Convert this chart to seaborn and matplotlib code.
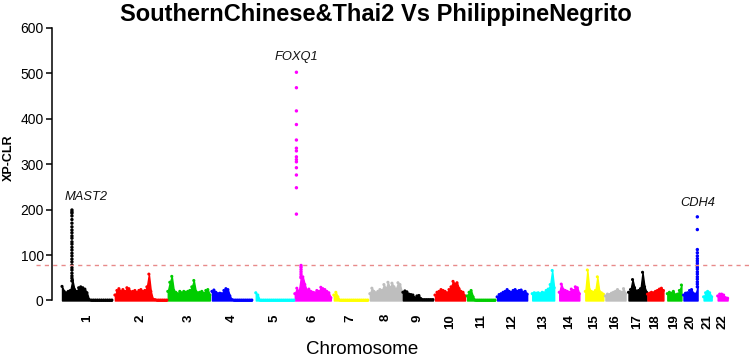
import numpy as np
import pandas as pd
import seaborn as sns
import matplotlib
matplotlib.use("Agg")
import matplotlib.pyplot as plt

# chromosome layout (Mb covered by SNPs, gap to next chromosome)
chrom_ids = list(range(1, 23))
chrom_span_mb = [216, 225, 182, 173, 165, 156, 147, 139, 130, 130, 121,
                 130, 95, 87, 78, 87, 78, 69, 61, 61, 35, 43]
chrom_gap_mb = [13, 4, 9, 17, 4, 13, 9, 4, 9, 9, 9, 22, 22, 26, 9, 13,
                4, 17, 9, 26, 26, 0]
chrom_colors = ["black", "red", "#00CD00", "blue", "cyan", "magenta",
                "yellow", "#BEBEBE"]

# upper envelope of XP-CLR scores, evenly spaced along each chromosome
chr1 = [31, 20, 17, 20, 22, 45, 24, 20, 28, 30, 28, 25, 17,
        2, 1, 1, 1, 1, 1, 1, 1, 1, 1, 1, 1]
chr2 = [12, 22, 26, 20, 24, 20, 28, 26, 19, 20, 22, 18, 22, 24,
        20, 22, 30, 58, 20, 3, 2, 1, 1, 1, 1, 1, 1]
chr3 = [20, 40, 53, 22, 18, 15, 20, 17, 20, 18, 20, 22, 30, 44,
        20, 17, 18, 20, 16, 22, 24, 12]
chr4 = [20, 23, 18, 15, 16, 15, 22, 26, 24, 10, 2, 1, 1, 1, 1, 1,
        1, 1, 1, 1, 1]
chr5 = [17, 12, 1, 1, 1, 1, 1, 1, 1, 1, 1, 1, 1, 1, 1, 1, 1, 1, 1, 1]
chr6 = [15, 27, 20, 50, 52, 35, 22, 25, 20, 18, 17, 22, 20, 29, 26,
        24, 20, 17, 6]
chr7 = [12, 18, 8, 1, 1, 1, 1, 1, 1, 1, 1, 1, 1, 1, 1, 1, 1, 1]
chr8 = [15, 27, 20, 17, 20, 24, 22, 35, 26, 40, 28, 38, 30, 25, 39,
        35, 18]
chr9 = [18, 21, 19, 14, 13, 12, 6, 10, 11, 4, 2, 2, 2, 2, 2, 2]
chr10 = [12, 18, 20, 24, 22, 20, 17, 24, 30, 42, 36, 39, 26, 20, 18, 10]
chr11 = [10, 18, 22, 8, 1, 1, 1, 1, 1, 1, 1, 1, 1, 1, 1]
chr12 = [8, 13, 15, 18, 20, 24, 20, 18, 22, 24, 20, 22, 23, 18, 20, 14]
chr13 = [15, 17, 16, 17, 15, 18, 17, 22, 25, 35, 66, 28]
chr14 = [18, 36, 24, 22, 20, 18, 25, 22, 30, 28, 15]
chr15 = [20, 67, 24, 20, 18, 22, 52, 20, 17, 14]
chr16 = [10, 14, 13, 16, 18, 20, 24, 20, 18, 26, 15]
chr17 = [18, 24, 46, 28, 20, 22, 26, 62, 30, 18]
chr18 = [14, 16, 18, 17, 20, 22, 25, 27, 22]
chr19 = [15, 18, 16, 20, 12, 14, 22, 34]
chr20 = [12, 16, 17, 22, 24, 15, 14, 30]
chr21 = [8, 17, 20, 17, 8]
chr22 = [10, 14, 14, 12, 6, 5]
profiles = [chr1, chr2, chr3, chr4, chr5, chr6, chr7, chr8, chr9, chr10,
            chr11, chr12, chr13, chr14, chr15, chr16, chr17, chr18, chr19,
            chr20, chr21, chr22]

# candidate regions above the threshold (single SNP columns)
mast2_xpclr = [199, 195, 192, 186, 178, 170, 162, 155, 149, 142, 137, 129,
               124, 117, 111, 104, 98, 91, 85, 78, 72, 67, 60, 54, 49, 43]
foxq1_xpclr = [502, 468, 417, 387, 353, 335, 329, 316, 310, 305, 292, 276,
               248, 190]
cdh4_xpclr = [184, 156, 112, 105, 98, 92, 87, 82, 77, 73, 69, 63, 58, 52,
              47, 41, 36, 30]
chr6_peak_xpclr = [77, 73, 68, 63, 58, 53]
peak_chrom = [1, 6, 20, 6]
peak_pos_mb = [43, 7, 60, 27]
peak_values = [mast2_xpclr, foxq1_xpclr, cdh4_xpclr, chr6_peak_xpclr]

genes = ["MAST2", "FOXQ1", "CDH4"]
gene_chrom = [1, 6, 20]
gene_label_y = [228, 536, 214]
threshold = 78

starts = np.concatenate([[0], np.cumsum(np.array(chrom_span_mb) + np.array(chrom_gap_mb))[:-1]])

rows = []
for c, span, st, prof in zip(chrom_ids, chrom_span_mb, starts, profiles):
    pos = st + np.linspace(0, span, len(prof))
    for p, v in zip(pos, prof):
        rows.append((c, p, v))
env = pd.DataFrame(rows, columns=["chrom", "bp_cum", "xpclr"])

rows = []
for c, p, vals in zip(peak_chrom, peak_pos_mb, peak_values):
    for v in vals:
        rows.append((c, starts[c - 1] + p, v))
peaks = pd.DataFrame(rows, columns=["chrom", "bp_cum", "xpclr"])

pal = {c: chrom_colors[(c - 1) % 8] for c in chrom_ids}

sns.set_style("ticks")
plt.rcParams["font.family"] = ["Liberation Sans", "DejaVu Sans"]
plt.rcParams["text.color"] = "black"
plt.rcParams["xtick.color"] = "black"
plt.rcParams["ytick.color"] = "black"
plt.rcParams["axes.edgecolor"] = "black"

fig = plt.figure(figsize=(7.53, 3.59), dpi=100)
ax = fig.add_axes([36 / 753, 0.1326, 1 - 36 / 753, 0.8206])

for c, g in env.groupby("chrom"):
    ax.fill_between(g["bp_cum"], 0, g["xpclr"], color=pal[c], lw=1.0,
                    edgecolor=pal[c])
sns.scatterplot(data=env, x="bp_cum", y="xpclr", hue="chrom", palette=pal,
                s=5, linewidth=0, legend=False, ax=ax)
sns.scatterplot(data=peaks, x="bp_cum", y="xpclr", hue="chrom", palette=pal,
                s=6, linewidth=0, legend=False, ax=ax)

ax.axhline(threshold, color="#e88a8a", lw=1.0, dashes=(3, 3))

for gname, c, ly in zip(genes, gene_chrom, gene_label_y):
    gx = peaks.loc[peaks["chrom"] == c, "bp_cum"].iloc[0]
    if gname == "MAST2":
        gx += 61
    ax.text(gx, ly, gname, ha="center", va="center", style="italic",
            fontsize=9.3, color="#111111")

ax.set_xlim(-112.6, 2992)
ax.set_ylim(-24, 624)
ax.set_yticks(range(0, 601, 100))
ax.set_yticklabels([str(v) for v in range(0, 601, 100)],
                   fontsize=9, fontweight="bold")
ticks = starts + np.array(chrom_span_mb) / 2
ax.set_xticks(ticks)
ax.set_xticklabels([str(c) for c in chrom_ids], rotation=90, fontsize=9.5,
                   fontweight="bold")
ax.tick_params(axis="x", length=0, pad=2)
ax.tick_params(axis="y", length=4, width=1.1, pad=2)
ax.set_xlabel("")
ax.set_ylabel("")
for s in ["top", "right", "bottom"]:
    ax.spines[s].set_visible(False)
ax.spines["left"].set_position(("data", -43.3))
ax.spines["left"].set_bounds(0, 600)
ax.spines["left"].set_linewidth(1.1)

fig.text(376 / 753, 1 - 15 / 359, "SouthernChinese&Thai2 Vs PhilippineNegrito",
         ha="center", va="center", fontsize=17, fontweight="bold")
fig.text(362 / 753, 1 - 349 / 359, "Chromosome", ha="center", va="center",
         fontsize=13.5)
fig.text(9 / 753, 1 - 158 / 359, "XP-CLR", ha="center", va="center",
         rotation=90, fontsize=9, fontweight="bold")

fig.savefig("out.png", dpi=100)
